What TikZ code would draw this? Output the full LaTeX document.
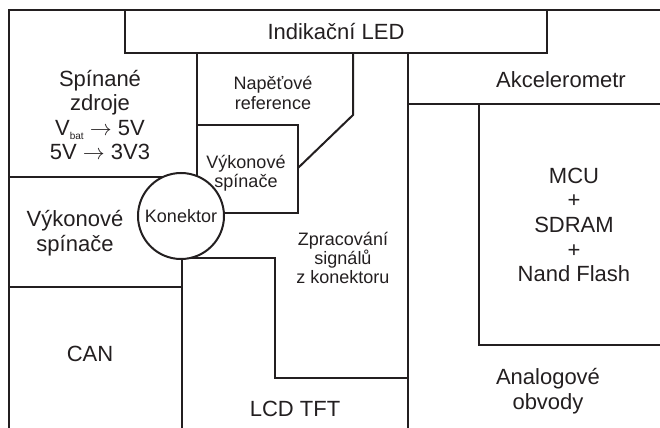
\documentclass[tikz,border=0pt]{standalone}
\usepackage{fontspec}
\setmainfont{Liberation Sans}
\usepackage{tikz}
\definecolor{cLine}{HTML}{231F20}

\begin{document}
\begin{tikzpicture}[
  x=0.5pt,y=-0.5pt,
  wall/.style={draw=cLine,line width=1pt,line join=miter},
  big/.style={font=\fontsize{11}{12.3}\selectfont,align=center,text=cLine,inner sep=0pt},
  small/.style={font=\fontsize{9}{9.6}\selectfont,align=center,text=cLine,inner sep=0pt},
  conn/.style={draw=cLine,line width=1pt,circle,fill=white,minimum size=43pt,inner sep=0pt}
]
\useasboundingbox (0,0) rectangle (660,428);
\draw[wall] (9,428) -- (9,10) -- (660,10);
\draw[wall] (125,10) rectangle (547,53);
\draw[wall] (9,177) -- (197,177);
\draw[wall] (197,53) -- (197,125) -- (298,125) -- (298,213) -- (182,213);
\draw[wall] (197,125) -- (197,180);
\draw[wall] (298,168) -- (353,115) -- (353,53);
\draw[wall] (408,53) -- (408,428);
\draw[wall] (408,104) -- (660,104);
\draw[wall] (660,345) -- (479,345) -- (479,104);
\draw[wall] (9,287) -- (182,287);
\draw[wall] (182,216) -- (182,428);
\draw[wall] (182,258) -- (275,258) -- (275,378) -- (408,378);
\node[conn] (kon) at (181,216) {};
\node[small] (konT) at (kon.center) {Konektor};
\node[big] (led) at (336,32) {Indikační LED};
\node[big] (zdroje) at (100,115) {Spínané\\zdroje\\V\raisebox{-0.35ex}{\fontsize{5}{5}\selectfont bat} $\rightarrow$ 5V\\5V $\rightarrow$ 3V3};
\node[small] (ref) at (273,93) {Napěťové\\reference};
\node[small] (spinA) at (246,173) {Výkonové\\spínače};
\node[big] (spinB) at (75,233) {Výkonové\\spínače};
\node[small] (zprac) at (343,258) {Zpracování\\signálů\\z konektoru};
\node[big] (akc) at (561,80) {Akcelerometr};
\node[big] (mcu) at (574,225) {MCU\\+\\SDRAM\\+\\Nand Flash};
\node[big] (can) at (90,354) {CAN};
\node[big] (lcd) at (295,409) {LCD TFT};
\node[big] (analog) at (548,391) {Analogové\\obvody};
\end{tikzpicture}
\end{document}
